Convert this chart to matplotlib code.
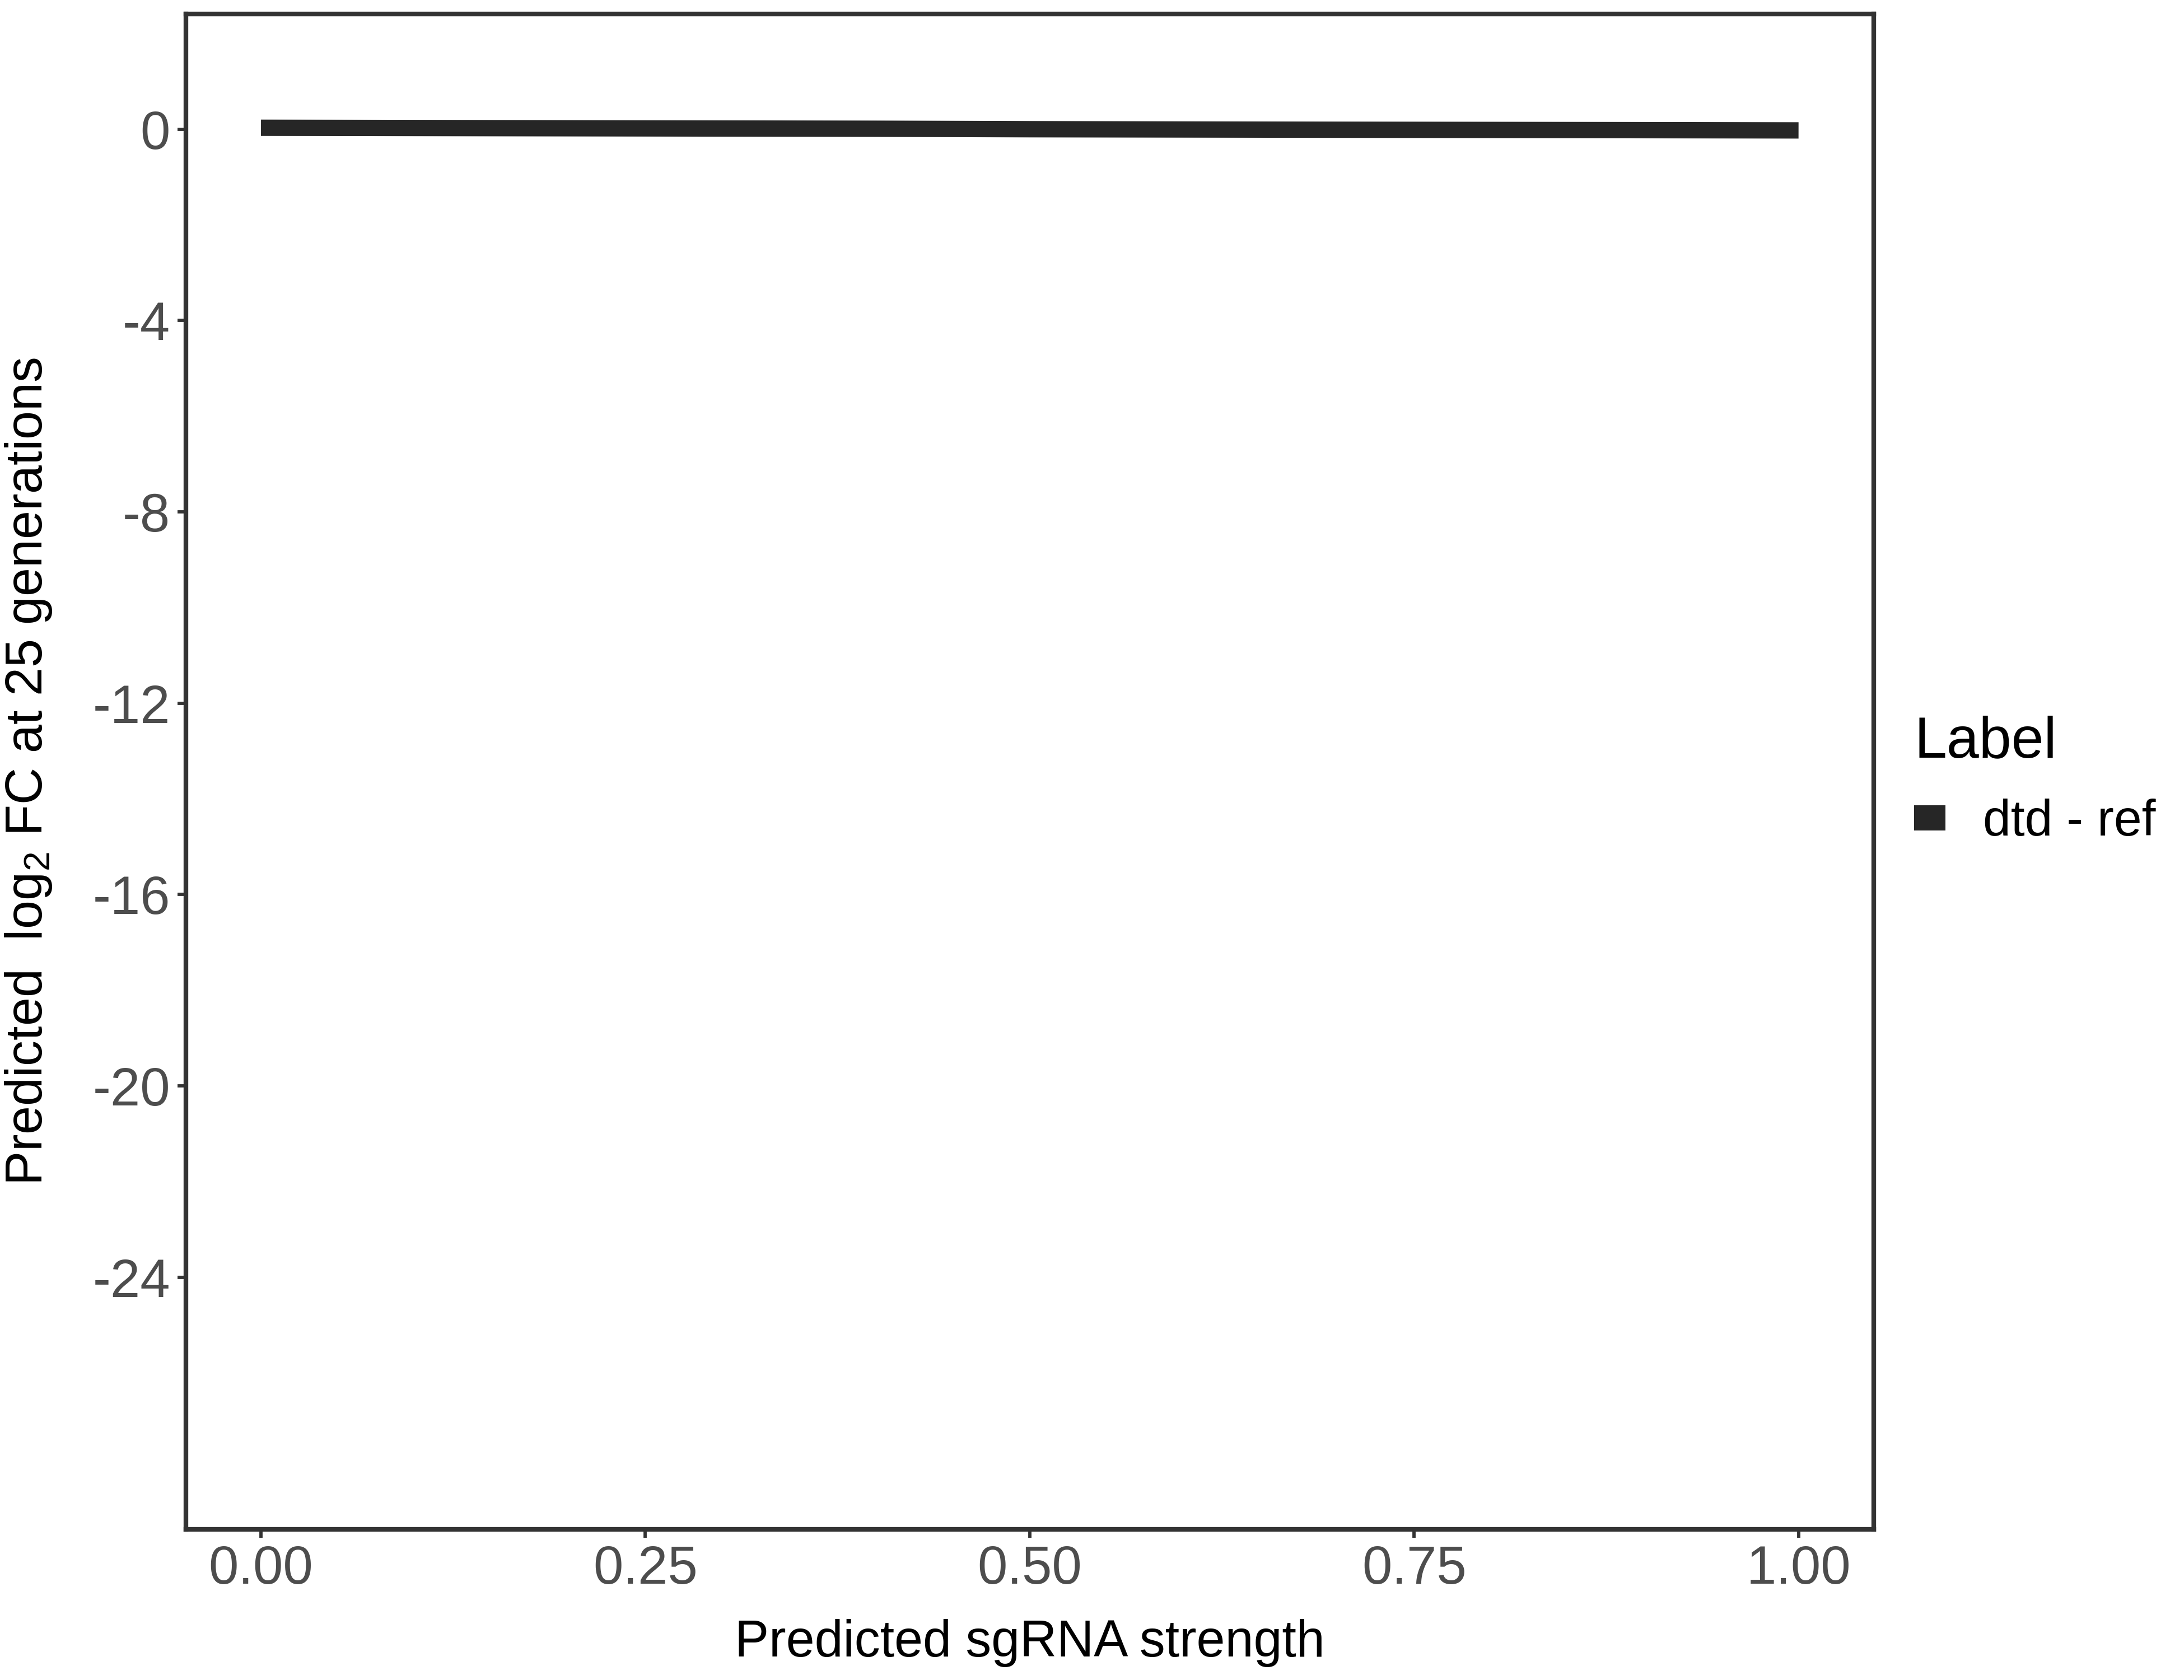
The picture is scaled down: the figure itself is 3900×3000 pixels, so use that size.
import matplotlib
matplotlib.use("Agg")
import matplotlib.pyplot as plt
from matplotlib.patches import Patch

plt.rcParams['font.family'] = ['Liberation Sans', 'DejaVu Sans']
plt.rcParams['mathtext.fontset'] = 'custom'
plt.rcParams['mathtext.rm'] = 'Liberation Sans'
plt.rcParams['mathtext.it'] = 'Liberation Sans:italic'
plt.rcParams['axes.unicode_minus'] = False

# data
strength = [0.0, 0.1, 0.2, 0.3, 0.4, 0.5, 0.6, 0.7, 0.8, 0.9, 1.0]
log2fc = [0.03, 0.025, 0.02, 0.015, 0.01, 0.0, -0.005, -0.01, -0.015, -0.02, -0.025]
series_label = "dtd - ref"
yticks = [0, -4, -8, -12, -16, -20, -24]
xticks = [0.0, 0.25, 0.5, 0.75, 1.0]
xticklabels = ["0.00", "0.25", "0.50", "0.75", "1.00"]

fig = plt.figure(figsize=(13, 10), dpi=300)
ax = fig.add_axes([0.085, 0.0897, 0.773, 0.9020])

line_color = "#262626"
ax.plot(strength, log2fc, color=line_color, lw=7.0, solid_capstyle='butt')

ax.set_xlim(-0.049, 1.049)
ax.set_ylim(-29.27, 2.41)
ax.set_yticks(yticks)
ax.set_yticklabels([str(v) for v in yticks])
ax.set_xticks(xticks)
ax.set_xticklabels(xticklabels)

for s in ax.spines.values():
    s.set_color("#333333")
    s.set_linewidth(2.0)
ax.tick_params(axis='both', colors="#333333", length=3.6, width=1.4,
               labelsize=23, labelcolor="#4D4D4D", pad=3)

ax.set_xlabel("Predicted sgRNA strength", fontsize=22, color="black")
ax.set_ylabel("Predicted  log$_2$ FC at 25 generations", fontsize=22, color="black")
ax.xaxis.set_label_coords(0.5, -0.059)
ax.yaxis.set_label_coords(-0.078, 0.5)

handle = Patch(facecolor=line_color, edgecolor='none')
leg = ax.legend([handle], [series_label], title="Label", loc='center left',
                bbox_to_anchor=(1.012, 0.494), frameon=False, fontsize=21.5,
                title_fontsize=25, handlelength=0.62, handleheight=0.4,
                handletextpad=0.75, borderaxespad=0, labelspacing=0.5)
leg._legend_box.align = "left"
leg._legend_box.sep = 12.5

fig.savefig("out.png", dpi=300, facecolor="white")
